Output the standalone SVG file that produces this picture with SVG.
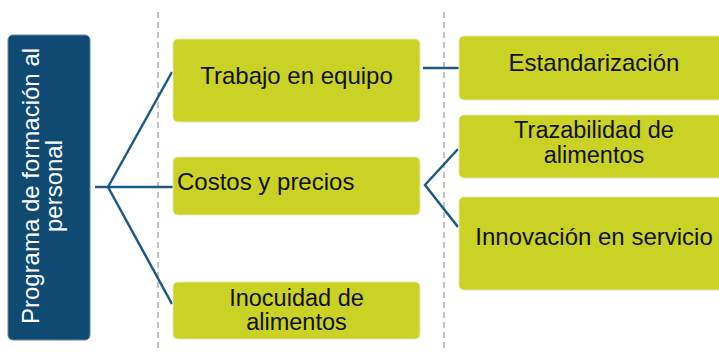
<svg xmlns="http://www.w3.org/2000/svg" width="719" height="352" viewBox="0 0 719 352">
<style>
.g{fill:#cad226;stroke:#e6eab0;stroke-width:1}
.b{fill:#0f4a72;stroke:#5f87a5;stroke-width:1}
.t{font-family:"Liberation Sans",Arial,sans-serif;font-size:24px;fill:#111}
.t2{font-family:"Liberation Sans",Arial,sans-serif;font-size:23.5px;fill:#111}
.w{font-family:"Liberation Sans",Arial,sans-serif;font-size:24px;fill:#ffffff}
.c{fill:none;stroke:#1d5985;stroke-width:2.5}
.d{fill:none;stroke:#b3b3b3;stroke-width:1.6;stroke-dasharray:6 4}
</style>
<rect width="719" height="352" fill="#ffffff"/>
<g id="dividers">
<line class="d" x1="158" y1="12" x2="158" y2="352"/>
<line class="d" x1="444" y1="12" x2="444" y2="352"/>
</g>
<g id="connectors">
<polyline class="c" points="95,187 108,187"/>
<line class="c" x1="108" y1="187" x2="172" y2="72"/>
<line class="c" x1="108" y1="187" x2="173" y2="187"/>
<line class="c" x1="108" y1="187" x2="172" y2="304"/>
<line class="c" x1="423" y1="68" x2="459" y2="68"/>
<polyline class="c" points="458,149 425,185 458,227"/>
</g>
<g id="root">
<rect class="b" x="8" y="35" width="82" height="305" rx="5"/>
<text class="w" text-anchor="middle" transform="translate(39,186) rotate(-90)">Programa de formación al</text>
<text class="w" text-anchor="middle" transform="translate(62,186) rotate(-90)">personal</text>
</g>
<g id="trabajo">
<rect class="g" x="173" y="39" width="247" height="83" rx="5"/>
<text class="t" x="296.5" y="84" text-anchor="middle">Trabajo en equipo</text>
</g>
<g id="costos">
<rect class="g" x="173" y="157" width="247" height="58" rx="5"/>
<text class="t" x="177" y="190">Costos y precios</text>
</g>
<g id="inocuidad">
<rect class="g" x="173" y="282" width="247" height="57" rx="5"/>
<text class="t2" x="296.5" y="306" text-anchor="middle">Inocuidad de</text>
<text class="t2" x="296.5" y="330" text-anchor="middle">alimentos</text>
</g>
<g id="estandarizacion">
<rect class="g" x="459" y="36" width="272" height="64" rx="5"/>
<text class="t" x="594" y="71" text-anchor="middle">Estandarización</text>
</g>
<g id="trazabilidad">
<rect class="g" x="459" y="115" width="272" height="63" rx="5"/>
<text class="t2" x="594" y="138" text-anchor="middle">Trazabilidad de</text>
<text class="t2" x="594" y="163" text-anchor="middle">alimentos</text>
</g>
<g id="innovacion">
<rect class="g" x="459" y="197" width="272" height="93" rx="5"/>
<text class="t" x="594" y="245" text-anchor="middle">Innovación en servicio</text>
</g>
</svg>
